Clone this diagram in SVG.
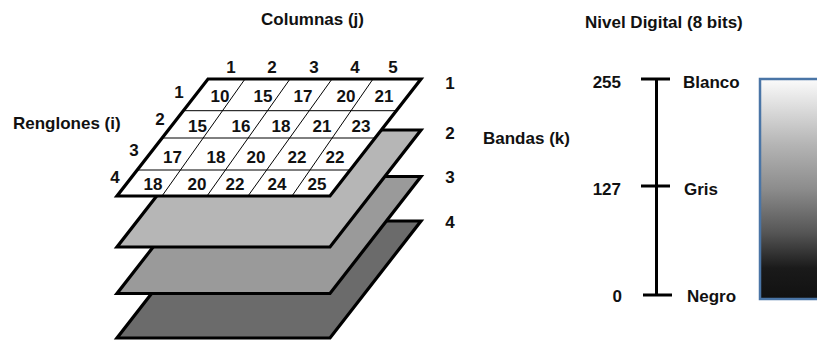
<svg xmlns="http://www.w3.org/2000/svg" width="817" height="341" viewBox="0 0 817 341">
<style>
.t{font-family:"Liberation Sans",Arial,sans-serif;font-weight:bold;fill:#111}
.lbl{font-size:17px}
.num{font-size:17px;text-anchor:middle}
.layer{stroke:#000;stroke-width:3.2;stroke-linejoin:miter}
.grid{stroke:#000;stroke-width:1;fill:none}
.scale{stroke:#000;stroke-width:3;fill:none}
</style>
<defs>
<linearGradient id="gray" x1="0" y1="0" x2="0" y2="1">
<stop offset="0" stop-color="#fbfbfb"/>
<stop offset="0.3" stop-color="#b4b4b4"/>
<stop offset="0.5" stop-color="#8c8c8c"/>
<stop offset="0.7" stop-color="#555"/>
<stop offset="0.86" stop-color="#1a1a1a"/>
<stop offset="1" stop-color="#111"/>
</linearGradient>
</defs>
<rect width="817" height="341" fill="#fff"/>

<g id="titles">
<text class="t lbl" x="312.5" y="25" text-anchor="middle">Columnas (j)</text>
<text class="t lbl" x="13" y="129">Renglones (i)</text>
<text class="t lbl" x="483" y="144">Bandas (k)</text>
<text class="t lbl" x="585" y="28">Nivel Digital (8 bits)</text>
</g>

<g id="layer4"><polygon class="layer" fill="#6b6b6b" points="208,221 421,221 330,338 117,338"/></g>
<g id="layer3"><polygon class="layer" fill="#9a9a9a" points="208,176.5 421,176.5 330,293.5 117,293.5"/></g>
<g id="layer2"><polygon class="layer" fill="#b6b6b6" points="208,130 421,130 330,247 117,247"/></g>
<g id="layer1">
<polygon class="layer" fill="#fff" points="208,79 421,79 330,196 117,196"/>
<g class="grid">
<line x1="183.3" y1="110.7" x2="396.3" y2="110.7"/>
<line x1="162.1" y1="138" x2="375.1" y2="138"/>
<line x1="137.2" y1="170" x2="350.2" y2="170"/>
<line x1="245" y1="79" x2="162" y2="196"/>
<line x1="290" y1="79" x2="207" y2="196"/>
<line x1="332" y1="79" x2="248" y2="196"/>
<line x1="373" y1="79" x2="292" y2="196"/>
</g>
<g class="t num">
<text x="220" y="102">10</text><text x="263" y="102">15</text><text x="303" y="102">17</text><text x="346" y="102">20</text><text x="384" y="102">21</text>
<text x="197.5" y="132">15</text><text x="241" y="132">16</text><text x="281" y="132">18</text><text x="322" y="132">21</text><text x="361" y="132">23</text>
<text x="172.5" y="163">17</text><text x="216" y="163">18</text><text x="256" y="163">20</text><text x="297" y="163">22</text><text x="335" y="163">22</text>
<text x="153" y="190">18</text><text x="197" y="190">20</text><text x="235" y="190">22</text><text x="277" y="190">24</text><text x="317" y="190">25</text>
</g>
</g>

<g id="col-index" class="t num">
<text x="231" y="73">1</text><text x="272" y="73">2</text><text x="314" y="73">3</text><text x="355" y="73">4</text><text x="393" y="73">5</text>
</g>
<g id="row-index" class="t num">
<text x="179" y="98">1</text><text x="160" y="125">2</text><text x="134" y="156">3</text><text x="115" y="183">4</text>
</g>
<g id="band-index" class="t num">
<text x="450" y="89">1</text><text x="450" y="139">2</text><text x="450" y="183">3</text><text x="450" y="228">4</text>
</g>

<g id="scale">
<g class="scale">
<line x1="656.5" y1="79" x2="656.5" y2="295"/>
<line x1="641" y1="79" x2="670" y2="79"/>
<line x1="641" y1="186" x2="670" y2="186"/>
<line x1="643" y1="295" x2="672" y2="295"/>
</g>
<g class="t lbl">
<text x="621" y="88" text-anchor="end">255</text>
<text x="621" y="195" text-anchor="end">127</text>
<text x="622" y="302" text-anchor="end">0</text>
<text x="683" y="88">Blanco</text>
<text x="684" y="195">Gris</text>
<text x="687" y="302">Negro</text>
</g>
</g>

<g id="gradient-bar">
<rect x="760" y="79" width="80" height="220" fill="url(#gray)" stroke="#4a75a6" stroke-width="2.5"/>
</g>
</svg>
